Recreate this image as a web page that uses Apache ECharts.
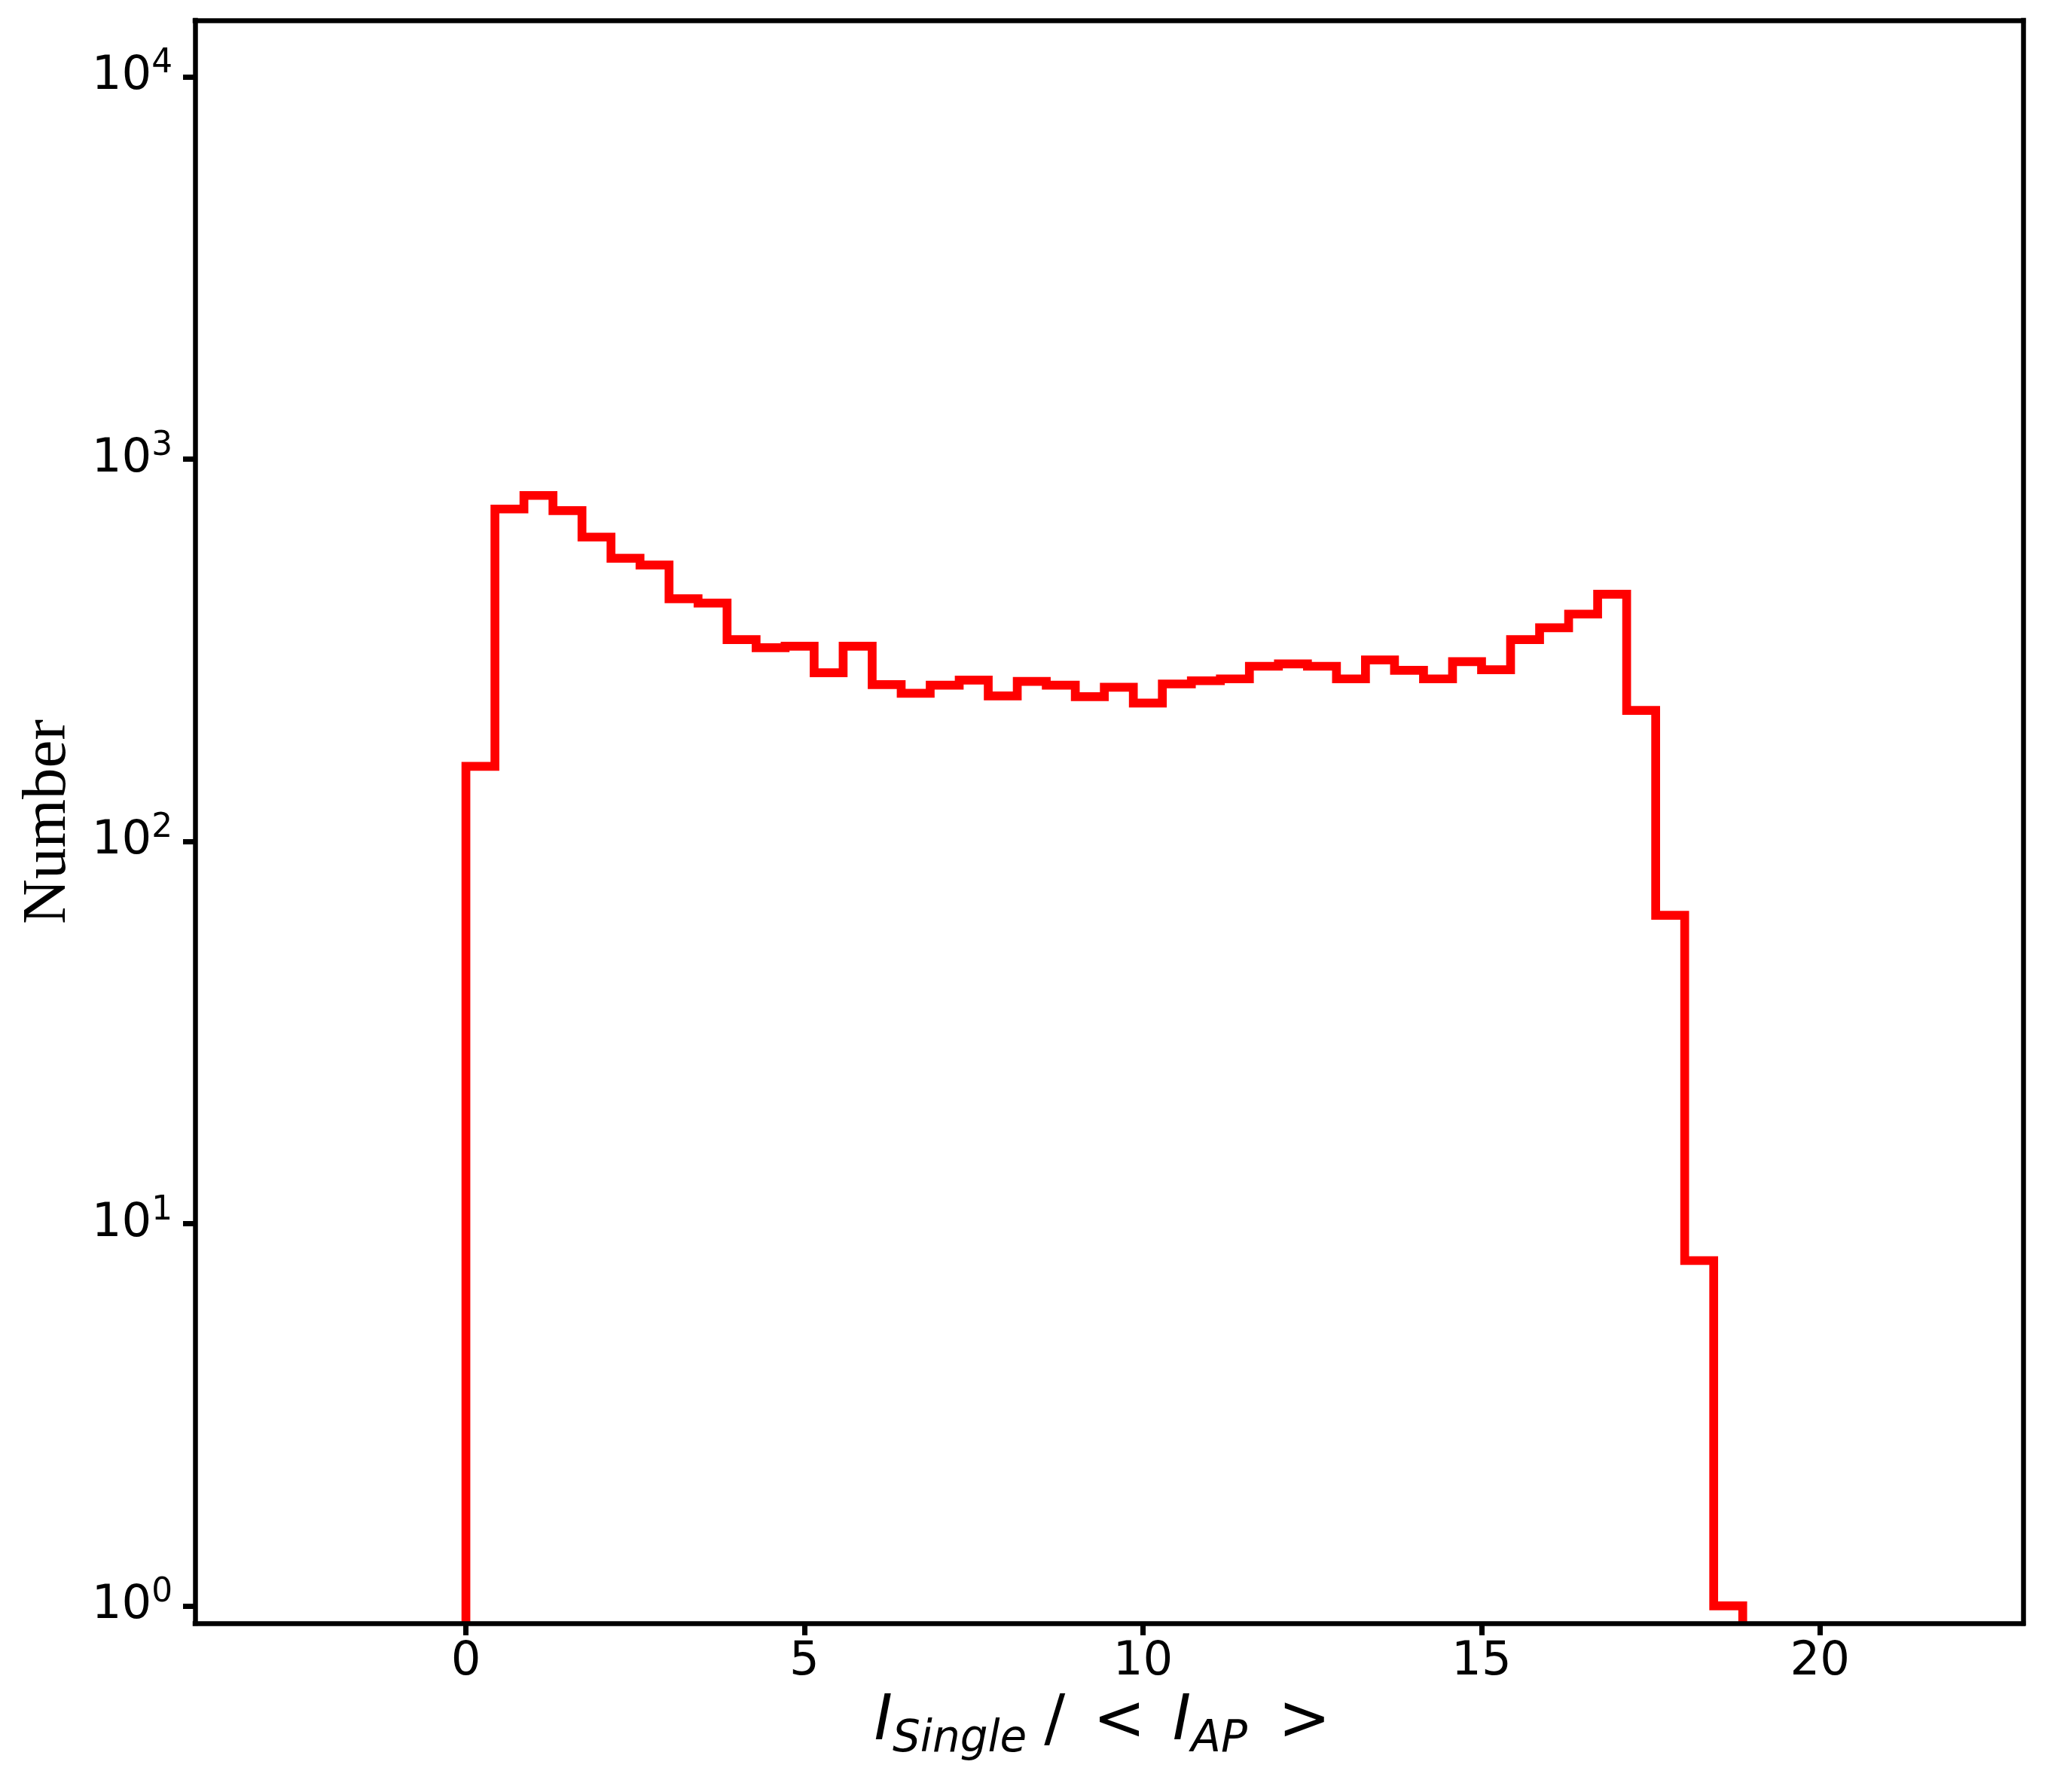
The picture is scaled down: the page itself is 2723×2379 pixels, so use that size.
<!DOCTYPE html>
<html>
<head>
<meta charset="utf-8">
<script src="https://cdn.jsdelivr.net/npm/echarts@6/dist/echarts.min.js"></script>
<style>
html,body{margin:0;padding:0;background:#fff;}
#c{width:2723px;height:2379px;}
</style>
</head>
<body>
<div id="c"></div>
<script>
// ---- data ----
const binStart = 0;
const binWidth = 0.4286;
const counts = [157, 740, 803, 733, 625, 550, 528, 431, 420, 337,
                321, 324, 276, 324, 257, 244, 256, 264, 240, 262,
                256, 239, 253, 230, 258, 263, 266, 287, 291, 287,
                266, 298, 280, 266, 295, 281, 337, 362, 393, 443,
                220, 64, 8, 1];
const xTicks = [0, 5, 10, 15, 20];
const yTicks = [1, 10, 100, 1000, 10000];
const xRange = [-4, 23];
const yRange = [0.9, 14050];

// ---- histogram outline (step) built from the arrays ----
const edges = counts.map((_, i) => binStart + i * binWidth);
edges.push(binStart + counts.length * binWidth);
const stepData = [[edges[0], yRange[0]]]
  .concat(counts.map((c, i) => [edges[i], c]))
  .concat([[edges[counts.length], yRange[0]]]);

const frameLine = {color: '#000', width: 6.5, cap: 'square'};

const chart = echarts.init(document.getElementById('c'), null, {renderer: 'canvas'});
chart.setOption({
  animation: false,
  backgroundColor: '#fff',
  grid: {left: 259, right: 37, top: 27, bottom: 224, containLabel: false, outerBoundsMode: 'none'},
  xAxis: [{
    type: 'value', position: 'bottom', min: xRange[0], max: xRange[1], z: 10,
    axisLine: {show: true, onZero: false, lineStyle: frameLine},
    axisTick: {show: true, customValues: xTicks, length: 16, lineStyle: {color: '#000', width: 7}},
    axisLabel: {show: true, customValues: xTicks, margin: 16.6, color: '#000',
      fontFamily: 'DejaVu Sans', fontSize: 62.5, lineHeight: 70},
    splitLine: {show: false},
    name: '{i|I}{sub|Single}{sl|/}{lt|<}{i2|I}{sub|AP}{gt|>}',
    nameLocation: 'middle', nameGap: 82, nameMoveOverlap: false,
    nameTextStyle: {
      color: '#000', fontFamily: 'DejaVu Sans', fontSize: 83,
      rich: {
        i:   {fontFamily: 'DejaVu Sans', fontStyle: 'italic', fontSize: 83, lineHeight: 100, color: '#000'},
        i2:  {fontFamily: 'DejaVu Sans', fontStyle: 'italic', fontSize: 83, lineHeight: 100, color: '#000', padding: [0, 0, 0, 36]},
        sub: {fontFamily: 'DejaVu Sans', fontStyle: 'italic', fontSize: 58, lineHeight: 54, color: '#000', padding: [46, 0, 0, 0]},
        sl:  {fontFamily: 'DejaVu Sans', fontSize: 83, lineHeight: 100, color: '#000', padding: [0, 0, 0, 23]},
        lt:  {fontFamily: 'DejaVu Sans', fontSize: 83, lineHeight: 100, color: '#000', padding: [0, 0, 0, 37]},
        gt:  {fontFamily: 'DejaVu Sans', fontSize: 83, lineHeight: 100, color: '#000', padding: [0, 18, 0, 41]}
      }
    }
  }, {
    type: 'value', position: 'top', min: xRange[0], max: xRange[1], z: 10,
    axisLine: {show: true, onZero: false, lineStyle: frameLine},
    axisTick: {show: false}, axisLabel: {show: false}, splitLine: {show: false}
  }],
  yAxis: [{
    type: 'log', logBase: 10, position: 'left', min: yRange[0], max: yRange[1], z: 10,
    axisLine: {show: true, onZero: false, lineStyle: frameLine},
    axisTick: {show: true, customValues: yTicks, length: 16, lineStyle: {color: '#000', width: 7}},
    minorTick: {show: false},
    axisLabel: {
      show: true, customValues: yTicks, margin: 30, color: '#000',
      formatter: function (v) { return '{b|10}{s|' + Math.round(Math.log10(v)) + '}'; },
      rich: {
        b: {fontFamily: 'DejaVu Sans', fontSize: 62.5, lineHeight: 80, color: '#000'},
        s: {fontFamily: 'DejaVu Sans', fontSize: 43.75, lineHeight: 46.4, color: '#000', padding: [0, 0, 33.6, 0]}
      }
    },
    splitLine: {show: false},
    name: 'Number', nameLocation: 'middle', nameGap: 145, nameRotate: 90, nameMoveOverlap: false,
    nameTextStyle: {color: '#000', fontFamily: 'Liberation Serif', fontSize: 83, lineHeight: 100}
  }, {
    type: 'value', position: 'right', min: 0, max: 1, z: 10,
    axisLine: {show: true, onZero: false, lineStyle: frameLine},
    axisTick: {show: false}, axisLabel: {show: false}, splitLine: {show: false}
  }],
  series: [{
    type: 'line', xAxisIndex: 0, yAxisIndex: 0,
    data: stepData, step: 'end', symbol: 'none', showSymbol: false,
    silent: true, clip: true, z: 2,
    lineStyle: {color: '#ff0000', width: 11.7, join: 'miter', cap: 'butt'}
  }]
});
</script>
</body>
</html>
